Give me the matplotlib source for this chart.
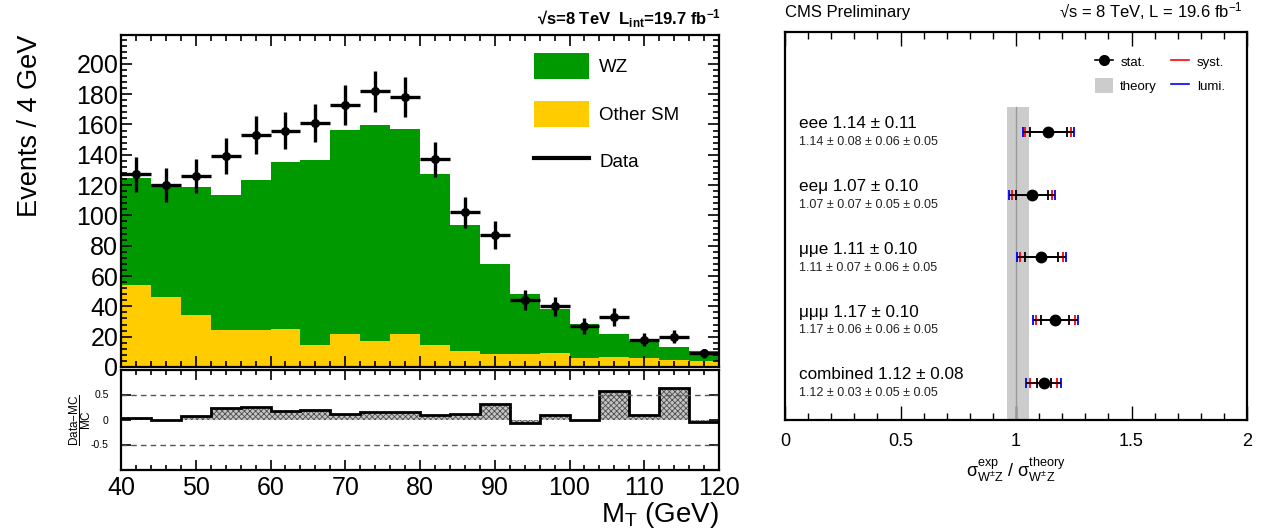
import numpy as np
import matplotlib
matplotlib.use('Agg')
import matplotlib.pyplot as plt
from matplotlib.patches import Patch
from matplotlib.lines import Line2D
from matplotlib.ticker import MultipleLocator, FixedLocator

plt.rcParams['font.family'] = ['Liberation Sans', 'DejaVu Sans']
plt.rcParams['mathtext.fontset'] = 'custom'
plt.rcParams['mathtext.rm'] = 'Liberation Sans'
plt.rcParams['mathtext.it'] = 'Liberation Sans:italic'
plt.rcParams['mathtext.bf'] = 'Liberation Sans:bold'
plt.rcParams['mathtext.sf'] = 'Liberation Sans'
plt.rcParams['hatch.linewidth'] = 0.6
plt.rcParams['hatch.color'] = '#4d4d4d'

# ---------------- data: left panel (M_T distribution) ----------------
mt_edges = [40, 44, 48, 52, 56, 60, 64, 68, 72, 76, 80, 84, 88, 92, 96, 100, 104, 108, 112, 116, 120]
data_counts = [127, 120, 126, 139, 153, 156, 161, 173, 182, 178, 137, 102, 87, 44, 40, 27, 33, 18, 20, 9]
wz_counts = [70.9, 74.6, 84.8, 89.3, 98.7, 110.1, 121.7, 135.1, 142.5, 135.5,
             112.3, 83.3, 59.4, 39.8, 28.8, 22.2, 15.1, 11.4, 8.4, 6.6]
other_counts = [54.1, 46.4, 34.0, 24.1, 24.5, 25.2, 14.7, 21.5, 16.9, 21.7,
                14.7, 10.3, 8.6, 8.4, 9.2, 6.1, 6.8, 5.9, 4.8, 4.1]
ratio_vals = [0.026, -0.005, 0.073, 0.24, 0.26, 0.165, 0.19, 0.12, 0.16, 0.145,
              0.086, 0.11, 0.31, -0.06, 0.10, -0.005, 0.58, 0.092, 0.63, -0.046]
legend_labels = ['WZ', 'Other SM', 'Data']

# ---------------- data: right panel (cross-section ratios) ----------------
channels = ['eee', 'eeμ', 'μμe', 'μμμ', 'combined']
central = [1.14, 1.07, 1.11, 1.17, 1.12]
err_stat = [0.08, 0.07, 0.07, 0.06, 0.03]
err_syst = [0.06, 0.05, 0.06, 0.06, 0.05]
err_lumi = [0.05, 0.05, 0.05, 0.05, 0.05]
err_total = [0.11, 0.10, 0.10, 0.10, 0.08]
theory_band = [0.96, 1.055]
theory_center = 1.0

GREEN = '#009900'
YELLOW = '#ffcc00'

W, H = 1266, 528
fig = plt.figure(figsize=(W / 100, H / 100), dpi=100)

def fx(px):
    return px / W

def fy(py):
    return 1 - py / H

edges = np.array(mt_edges, dtype=float)
centers = 0.5 * (edges[:-1] + edges[1:])
halfw = 0.5 * (edges[1:] - edges[:-1])
data = np.array(data_counts, dtype=float)
wz = np.array(wz_counts)
other = np.array(other_counts)

# ---------------- main panel ----------------
ax = fig.add_axes([fx(121), fy(367), (719 - 121) / W, (367 - 35) / H])
ax.stairs(other + wz, edges, baseline=other, fill=True, color=GREEN, lw=0)
ax.stairs(other, edges, baseline=0, fill=True, color=YELLOW, lw=0)
ax.errorbar(centers, data, xerr=halfw, yerr=np.sqrt(data), fmt='o', color='k',
            ms=5.5, elinewidth=2.4, capsize=0, zorder=5)
ax.set_xlim(40, 120)
ax.set_ylim(0, 219)
ax.yaxis.set_major_locator(MultipleLocator(20))
ax.yaxis.set_minor_locator(MultipleLocator(4))
ax.xaxis.set_major_locator(MultipleLocator(10))
ax.xaxis.set_minor_locator(MultipleLocator(2))
ax.tick_params(which='both', direction='in', top=True, right=True, labelbottom=False,
               labelsize=18, pad=2, width=1.2)
ax.tick_params(which='major', length=8)
ax.tick_params(which='minor', length=4)
for s in ax.spines.values():
    s.set_linewidth(1.6)

handles = [Patch(facecolor=GREEN, edgecolor='none'),
           Patch(facecolor=YELLOW, edgecolor='none'),
           Line2D([], [], color='k', lw=3)]
ax.legend(handles, legend_labels, loc='upper left',
          bbox_to_anchor=((534 - 121) / 598, 1 - (53 - 35) / 332),
          frameon=False, fontsize=13.5, handlelength=2.93, handleheight=1.76,
          labelspacing=1.15, handletextpad=0.55, borderpad=0, borderaxespad=0)

fig.text(fx(30), fy(35), 'Events / 4 GeV', rotation=90, ha='center', va='top', fontsize=19.5)
fig.text(fx(721), fy(25), r'√s=8 TeV  L$_{\mathbf{int}}$=19.7 fb$^{\mathbf{-1}}$',
         ha='right', va='baseline', fontsize=12, fontweight='bold')

# ---------------- ratio panel ----------------
axr = fig.add_axes([fx(121), fy(469.5), (719 - 121) / W, 100 / H])
axr.stairs(ratio_vals, edges, baseline=0, fill=True, facecolor='#c4c4c4',
           edgecolor='#4d4d4d', hatch='xxxxxx', lw=0)
axr.stairs(ratio_vals, edges, baseline=None, color='k', lw=2)
for yv in (0.5, -0.5):
    axr.axhline(yv, ls=(0, (4, 3)), color='#555555', lw=1)
axr.set_xlim(40, 120)
axr.set_ylim(-1, 1)
axr.yaxis.set_major_locator(FixedLocator([-0.5, 0, 0.5]))
axr.set_yticklabels(['-0.5', '0', '0.5'])
axr.xaxis.set_major_locator(MultipleLocator(10))
axr.xaxis.set_minor_locator(MultipleLocator(2))
axr.tick_params(which='both', direction='in', top=True, right=True, width=1.2)
axr.tick_params(axis='x', labelsize=18, pad=5)
axr.tick_params(axis='y', labelsize=7.5, pad=9)
axr.tick_params(which='major', length=7)
axr.tick_params(which='minor', length=3.5)
for s in axr.spines.values():
    s.set_linewidth(1.6)
axr.set_xlabel(r'M$_{\mathrm{T}}$ (GeV)', fontsize=20, loc='right', labelpad=0)
fig.text(fx(80), fy(420), r'$\dfrac{\mathrm{Data{-}MC}}{\mathrm{MC}}$', rotation=90,
         ha='center', va='center', fontsize=8.5)

# ---------------- right panel ----------------
axx = fig.add_axes([fx(785), fy(420), 462 / W, 388 / H])
n = len(channels)
ypos = np.arange(n, 0, -1, dtype=float)
ylo, yhi = 0.41, n + 1.594
band_top = n + 0.4
c = np.array(central)
st = np.array(err_stat)
sy = np.sqrt(st ** 2 + np.array(err_syst) ** 2)
lu = np.sqrt(sy ** 2 + np.array(err_lumi) ** 2)

axx.fill_betweenx([ylo, band_top], theory_band[0], theory_band[1], color='#cccccc', lw=0)
axx.plot([theory_center, theory_center], [ylo, band_top], color='#999999', lw=1)
axx.errorbar(c, ypos, xerr=lu, fmt='none', ecolor='#0000ff', elinewidth=1.2,
             capsize=3.3, capthick=1.3)
axx.errorbar(c, ypos, xerr=sy, fmt='none', ecolor='#ff0000', elinewidth=1.2,
             capsize=3.3, capthick=1.3)
axx.hlines(ypos, c - lu, c + lu, color='#2a0000', lw=1.3)
axx.errorbar(c, ypos, xerr=st, fmt='o', color='k', ms=7.5, ecolor='k',
             elinewidth=1.3, capsize=3.3, capthick=1.3, zorder=5)

for i in range(n):
    axx.text(0.06, ypos[i] + 0.13, f"{channels[i]} {central[i]:.2f} ± {err_total[i]:.2f}",
             fontsize=12.3, va='center', ha='left')
    axx.text(0.06, ypos[i] - 0.16,
             f"{central[i]:.2f} ± {err_stat[i]:.2f} ± {err_syst[i]:.2f} ± {err_lumi[i]:.2f}",
             fontsize=9, va='center', ha='left', color='#222222')

axx.set_xlim(0, 2)
axx.set_ylim(ylo, yhi)
axx.set_yticks([])
axx.xaxis.set_major_locator(MultipleLocator(0.5))
axx.xaxis.set_minor_locator(MultipleLocator(0.1))
axx.xaxis.set_major_formatter(matplotlib.ticker.FuncFormatter(lambda v, p: f"{v:g}"))
axx.tick_params(axis='x', which='both', direction='in', top=True, labelsize=13, pad=9, width=1)
axx.tick_params(axis='x', which='major', length=10)
axx.tick_params(axis='x', which='minor', length=5)
for s in axx.spines.values():
    s.set_linewidth(1.6)
axx.set_xlabel(r'$\mathrm{\sigma^{exp}_{W^{\pm}Z}}$ / $\mathrm{\sigma^{theory}_{W^{\pm}Z}}$',
               fontsize=13, labelpad=4)

leg_handles = [Line2D([], [], color='k', lw=1.2, marker='o', ms=7),
               Patch(facecolor='#cccccc', edgecolor='none'),
               Line2D([], [], color='#ff0000', lw=1.2),
               Line2D([], [], color='#0000ff', lw=1.2)]
axx.legend(leg_handles, ['stat.', 'theory', 'syst.', 'lumi.'], ncol=2, loc='upper left',
           bbox_to_anchor=((1095 - 785) / 462, 1 - (54 - 32) / 388), frameon=False,
           fontsize=9.5, handlelength=1.36, handleheight=1.29, labelspacing=0.75,
           handletextpad=0.55, columnspacing=1.1, borderpad=0, borderaxespad=0)

fig.text(fx(785), fy(17), 'CMS Preliminary', fontsize=12, ha='left', va='baseline')
fig.text(fx(1243), fy(17), r'√s = 8 TeV, L = 19.6 fb$^{-1}$', fontsize=12,
         ha='right', va='baseline')

fig.savefig('out.png', dpi=100)
